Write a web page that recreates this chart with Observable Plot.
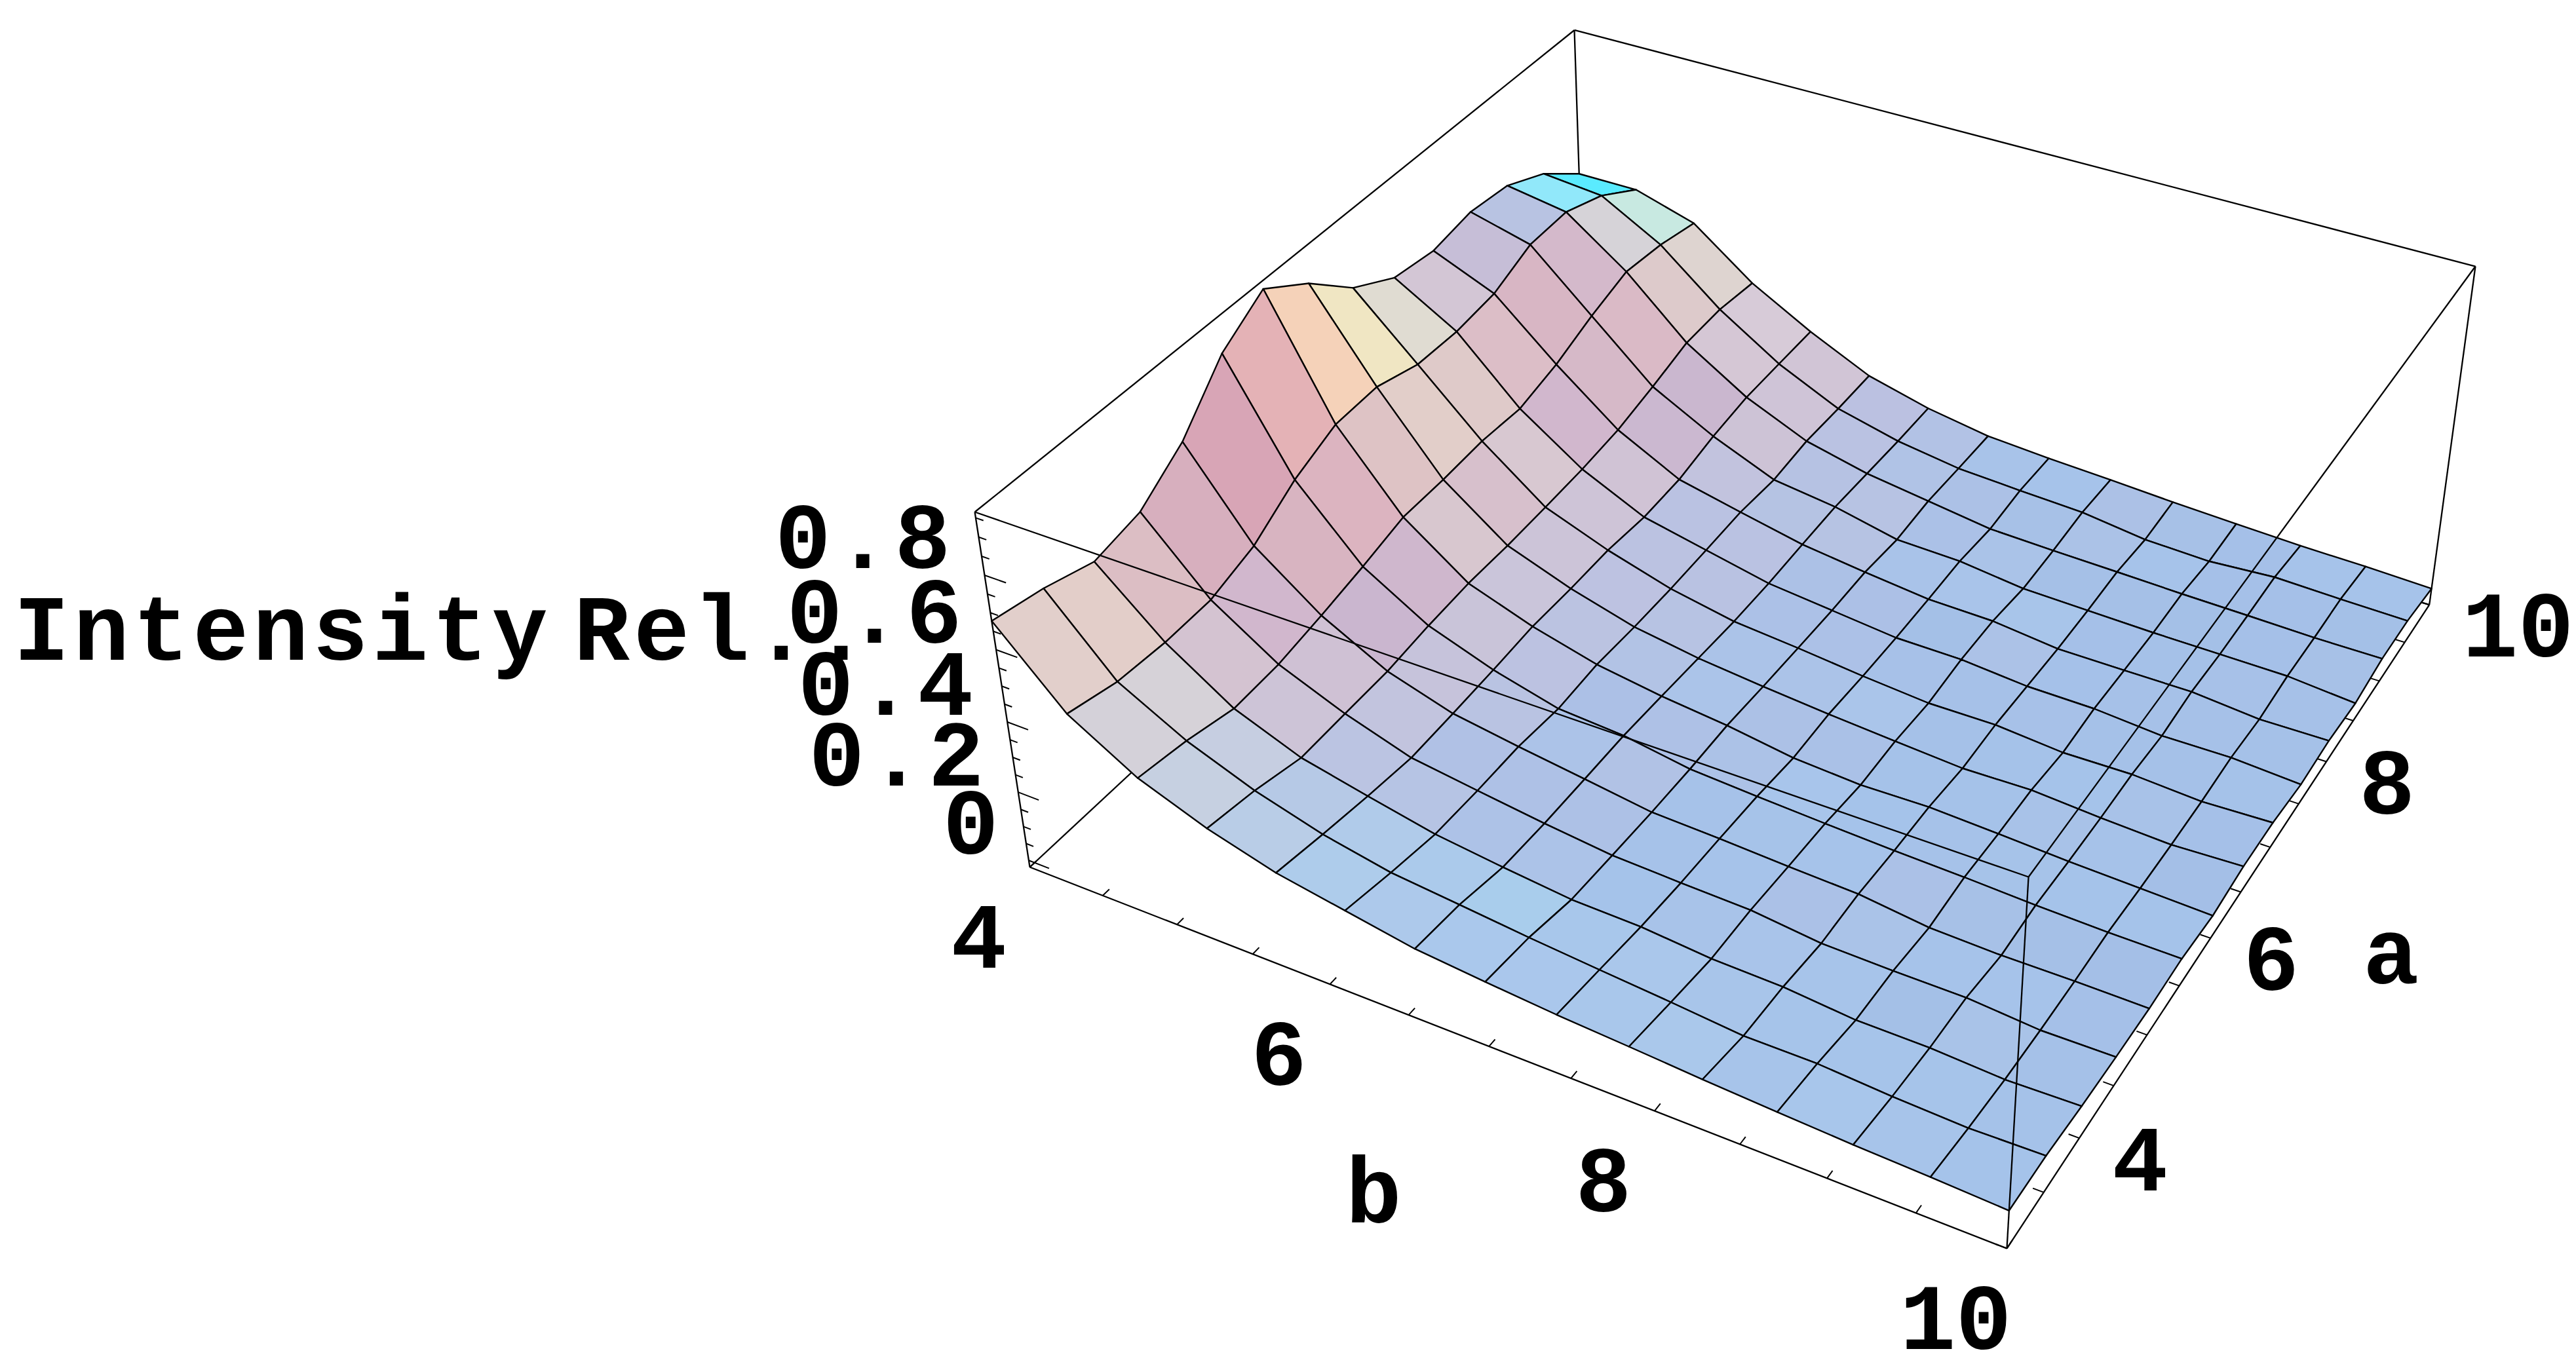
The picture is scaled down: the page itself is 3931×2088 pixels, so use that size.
<!DOCTYPE html>
<html>
<head>
<meta charset="utf-8">
<style>
html,body{margin:0;padding:0;background:#fff}
svg{display:block}
</style>
<script src="https://cdn.jsdelivr.net/npm/d3@7"></script>
<script src="https://cdn.jsdelivr.net/npm/@observablehq/plot@0.6"></script>
</head>
<body>
<div id="chart"></div>
<script>
// ---- data ----
const bValues = [4,4.5,5,5.5,6,6.5,7,7.5,8,8.5,9,9.5,10];
const aValues = [3,3.5,4,4.5,5,5.5,6,6.5,7,7.5,8,8.5,9,9.5,10];
// 15 rows across b (the grid has 15 samples over 4..10), 15 columns along a
const bGrid = [4,4.4286,4.8571,5.2857,5.7143,6.1429,6.5714,7,7.4286,7.8571,8.2857,8.7143,9.1429,9.5714,10];
const intensity = [
[.678,.651,.611,.638,.725,.865,.943,.863,.755,.689,.673,.694,.681,.627,.538],
[.489,.457,.448,.452,.492,.570,.621,.625,.589,.585,.599,.648,.652,.610,.538],
[.378,.357,.325,.331,.354,.381,.413,.414,.421,.413,.443,.489,.525,.512,.485],
[.306,.284,.251,.254,.256,.271,.280,.279,.283,.289,.302,.330,.363,.367,.352],
[.252,.229,.209,.193,.198,.205,.215,.212,.214,.203,.209,.235,.251,.253,.254],
[.218,.191,.169,.166,.168,.156,.166,.160,.159,.163,.168,.159,.172,.169,.170],
[.184,.172,.145,.140,.141,.143,.137,.130,.123,.123,.129,.134,.129,.124,.123],
[.166,.152,.124,.118,.113,.112,.116,.110,.106,.103,.105,.093,.102,.096,.092],
[.150,.135,.119,.110,.106,.100,.087,.093,.086,.083,.084,.087,.075,.085,.079],
[.138,.119,.102,.104,.096,.090,.075,.079,.070,.081,.080,.064,.068,.076,.069],
[.125,.101,.097,.082,.088,.081,.079,.066,.071,.065,.059,.059,.063,.051,.058],
[.114,.101,.079,.078,.064,.075,.070,.070,.055,.063,.058,.054,.057,.044,.049],
[.104,.088,.078,.077,.058,.066,.060,.057,.058,.048,.058,.052,.053,.056,.041],
[.097,.080,.067,.061,.059,.061,.053,.048,.046,.050,.041,.050,.048,.050,.037],
[.088,.085,.072,.063,.057,.059,.046,.056,.053,.038,.043,.033,.048,.046,.030]
];
const bTickLabels = [4,6,8,10];
const aTickLabels = [4,6,8,10];
const zTickLabels = ["0","0.2","0.4","0.6","0.8"];
const zTickValues = [0,0.2,0.4,0.6,0.8];
const zMinorValues = d3.range(0,0.951,0.05);
const zLabel = "Intensity Rel..";

// ---- box extents and perspective camera ----
const bDomain = [4,10], aDomain = [3,10], zDomain = [-0.02,0.965];
const cameraX = [1144.1,1363.9,-188.7,1571];
const cameraY = [366.2,-674,-597,1323];
const cameraW = [-0.11329,0.21373,-0.07044,1];
const norm = (t,[lo,hi]) => (t-lo)/(hi-lo);
const dot = (c,u,v,w) => c[0]*u+c[1]*v+c[2]*w+c[3];
function project(b,a,z){
  const u=norm(b,bDomain), v=norm(a,aDomain), w=norm(z,zDomain), d=dot(cameraW,u,v,w);
  return [dot(cameraX,u,v,w)/d, dot(cameraY,u,v,w)/d];
}

// ---- facet shading as a function of the facet's normal ----
const shadeAnchors = [
[0,0,164,191,231],[.03,.05,165,195,234],[.106,.073,170,200,236],[.198,.139,173,204,236],[.295,.119,185,206,231],
[.12,0,172,192,230],[.25,0,188,193,225],[.4,0,205,195,215],[.264,.147,182,200,230],[.378,.171,198,205,225],
[.379,.11,198,208,225],[.51,.128,210,208,218],[.739,-.156,220,180,192],[.508,-.101,202,182,207],[.678,-.09,220,190,200],
[.32,-.185,198,190,215],[.454,.005,212,198,213],[.211,.025,184,195,226],[.126,.26,145,232,250],[.045,.417,90,235,255],
[.381,.252,200,235,225],[.535,.129,216,212,216],[.617,.092,222,212,208],[.517,.033,215,203,216],
[.841,.115,245,210,185],[.786,-.325,216,165,182],[.855,-.18,228,178,182],[.728,.26,240,230,195],[.603,.156,225,222,210],
[.732,.115,226,207,204],[.71,.096,227,206,200],[.703,-.06,220,190,195],[.745,-.226,215,175,190],[.6,-.1,208,182,205]
];
function shade(nx,ny){
  let sw=0,r=0,g=0,bl=0;
  for(const [x,y,R,G,B] of shadeAnchors){
    const d2=(nx-x)**2+(ny-y)**2, k=1/Math.pow(d2+0.0015,2);
    sw+=k;r+=k*R;g+=k*G;bl+=k*B;
  }
  return `rgb(${Math.round(r/sw)},${Math.round(g/sw)},${Math.round(bl/sw)})`;
}

// ---- surface facets, far to near ----
const facetRows=[];
const zSpan=zDomain[1]-zDomain[0], n=bGrid.length, m=aValues.length;
let cell=0;
for(let i=0;i<n-1;i++){
  for(let j=m-1;j>0;j--){
    const jj=j-1;
    const z00=intensity[i][jj],z01=intensity[i][j],z10=intensity[i+1][jj],z11=intensity[i+1][j];
    const dzu=((z10-z00)+(z11-z01))/2*(n-1)/zSpan;
    const dzv=((z01-z00)+(z11-z10))/2*(m-1)/zSpan;
    const Nx=-0.4*dzu,Ny=-0.4*dzv,len=Math.hypot(Nx,Ny,1);
    const fill=shade(Nx/len,Ny/len);
    const corners=[[i,jj],[i+1,jj],[i+1,j],[i,j],[i,jj]];
    for(const [p,q] of corners){
      const [px,py]=project(bGrid[p],aValues[q],intensity[p][q]);
      facetRows.push({cell,px,py,fill});
    }
    cell++;
  }
}

// ---- box ----
const [b0,b1]=bDomain,[a0,a1]=aDomain,[z0,z1]=zDomain;
const edge=(p,q)=>{const A=project(...p),B=project(...q);return {x1:A[0],y1:A[1],x2:B[0],y2:B[1]};};
const backEdges=[
 edge([b0,a1,z0],[b0,a0,z0]),edge([b0,a1,z0],[b1,a1,z0]),edge([b0,a1,z0],[b0,a1,z1]),
 edge([b0,a0,z0],[b0,a0,z1]),edge([b1,a1,z0],[b1,a1,z1]),
 edge([b0,a1,z1],[b0,a0,z1]),edge([b0,a1,z1],[b1,a1,z1]),
 edge([b0,a0,z0],[b1,a0,z0]),edge([b1,a0,z0],[b1,a1,z0])
];
const frontEdges=[edge([b0,a0,z1],[b1,a0,z1]),edge([b1,a0,z1],[b1,a1,z1]),edge([b1,a0,z0],[b1,a0,z1])];

// ---- ticks ----
const ticks=[
 ...bValues.map(b=>edge([b,a0,z0],[b,a0+0.07,z0])),
 ...d3.range(a0,a1+.01,.5).map(a=>edge([b1,a,z0],[b1-0.06,a,z0])),
 ...zMinorValues.map(z=>edge([b0,a0,z],[b0+(zTickValues.some(t=>Math.abs(t-z)<1e-6)?0.14:0.05),a0,z]))
];

// ---- labels ----
const at=(b,a,z,label)=>{const [px,py]=project(b,a,z);return {px,py,label};};
const bLabels=bTickLabels.map(b=>at(b,a0,z0,String(b)));
const aLabels=aTickLabels.map(a=>at(b1,a,z0,String(a)));
const zLabels=zTickValues.map((z,k)=>at(b0,a0,z,zTickLabels[k]));
const textStyle={x:"px",y:"py",text:"label",fontFamily:"Liberation Mono",fontWeight:"bold",fontSize:142,fill:"#000",lineAnchor:"middle"};

const chart=Plot.plot({
  width:3931,height:2088,margin:0,
  x:{domain:[0,3931],range:[0,3931],axis:null},
  y:{domain:[0,2088],range:[0,2088],axis:null},
  color:{type:"identity"},
  style:{background:"#fff",wordSpacing:"-57px"},
  marks:[
    Plot.link(backEdges,{x1:"x1",y1:"y1",x2:"x2",y2:"y2",stroke:"#000",strokeWidth:2.3}),
    Plot.link(ticks,{x1:"x1",y1:"y1",x2:"x2",y2:"y2",stroke:"#000",strokeWidth:2}),
    Plot.line(facetRows,{x:"px",y:"py",z:"cell",fill:"fill",stroke:"#000",strokeWidth:2.4,curve:"linear",strokeLinejoin:"round"}),
    Plot.link(frontEdges,{x1:"x1",y1:"y1",x2:"x2",y2:"y2",stroke:"#000",strokeWidth:2.3}),
    Plot.text(zLabels,{...textStyle,textAnchor:"end",dx:-46,dy:-56}),
    Plot.text(bLabels,{...textStyle,textAnchor:"middle",dx:-78,dy:108}),
    Plot.text(aLabels,{...textStyle,textAnchor:"start",dx:50,dy:34}),
    Plot.text([at((b0+b1)/2,a0,z0,"b")],{...textStyle,textAnchor:"middle",dx:-176,dy:224}),
    Plot.text([at(b1,(a0+a1)/2,z0,"a")],{...textStyle,textAnchor:"middle",dx:229,dy:94}),
    Plot.text([at(b0,a0,0.5,zLabel)],{...textStyle,textAnchor:"start",dx:-1508,dy:-86})
  ]
});
// the z labels and the z title are set slightly wider than the other labels
const wide=new Set([...zTickLabels.filter(t=>t.includes(".")),zLabel]);
chart.querySelectorAll("text").forEach(t=>{ if(wide.has(t.textContent)) t.style.letterSpacing="6px"; });
document.getElementById("chart").appendChild(chart);
</script>
</body>
</html>
